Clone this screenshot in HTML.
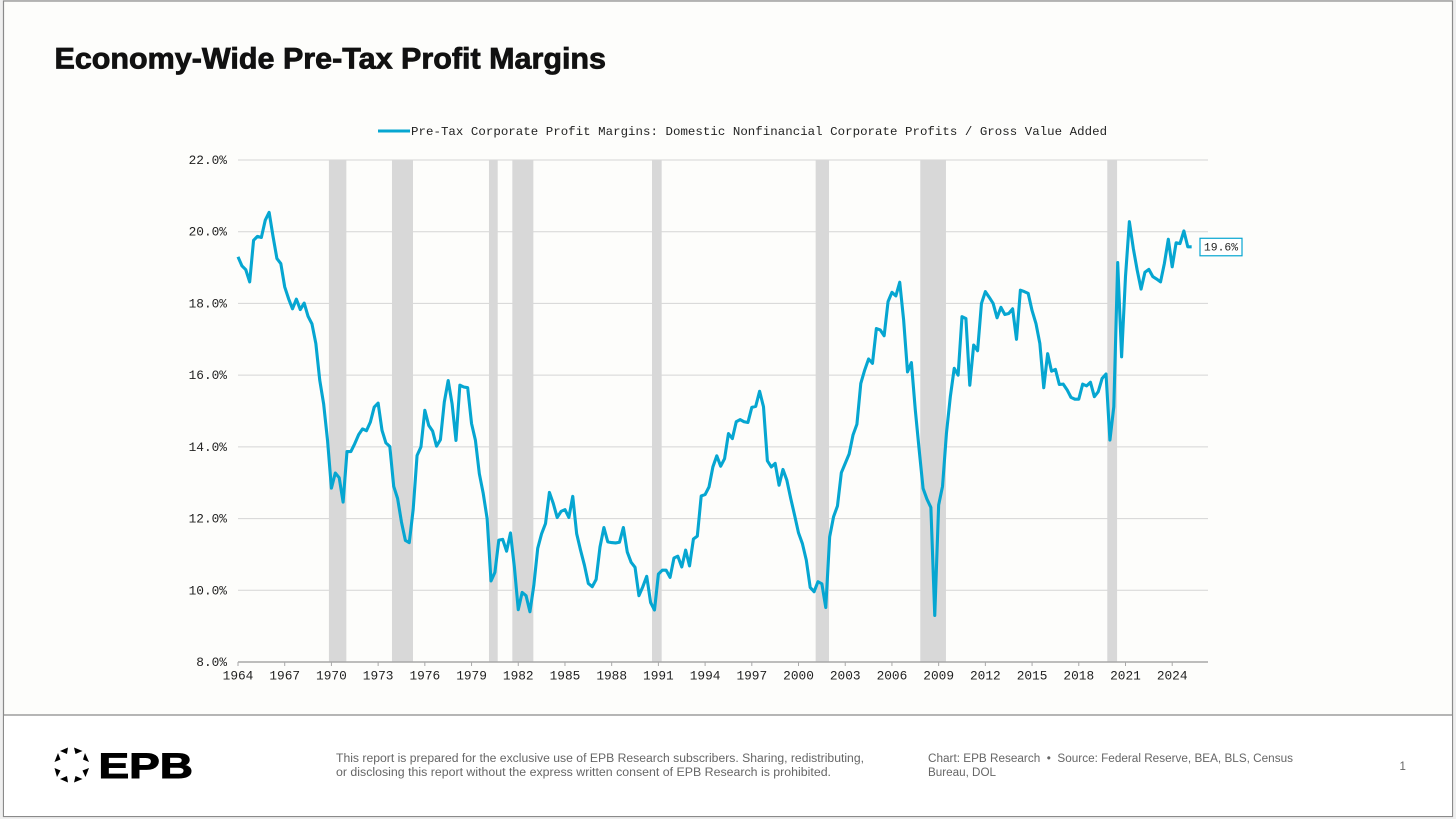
<!DOCTYPE html>
<html lang="en">
<head>
<meta charset="utf-8">
<title>Economy-Wide Pre-Tax Profit Margins</title>
<style>
  html, body { margin: 0; padding: 0; width: 1456px; height: 819px; overflow: hidden; background: #efefef; }
  svg { display: block; }
  .mono { font-family: "Liberation Mono", monospace; fill: #222222; }
  .sans { font-family: "Liberation Sans", sans-serif; fill: #666666; }
</style>
</head>
<body>
<svg id="slide" width="1456" height="819" viewBox="0 0 1456 819" xmlns="http://www.w3.org/2000/svg">
  <rect x="3.5" y="1" width="1449" height="815.5" fill="#fdfdfb" stroke="#8a8a8a" stroke-width="1.2"/>
  <rect x="4" y="715.5" width="1448" height="100.5" fill="#ffffff"/>
  <line x1="3.5" y1="715" x2="1452.5" y2="715" stroke="#8a8a8a" stroke-width="1.2"/>

  <text x="54.5" y="68.5" font-family="'Liberation Sans', sans-serif" font-weight="700" font-size="30" fill="#111111" stroke="#111111" stroke-width="0.8" textLength="551.5" lengthAdjust="spacingAndGlyphs">Economy-Wide Pre-Tax Profit Margins</text>

  <line x1="378" y1="131" x2="410" y2="131" stroke="#06a6d1" stroke-width="3"/>
  <text class="mono" x="411" y="135" font-size="12.4" textLength="696" lengthAdjust="spacing">Pre-Tax Corporate Profit Margins: Domestic Nonfinancial Corporate Profits / Gross Value Added</text>

  <g id="grid-layer"></g>
  <g id="band-layer"></g>
  <g id="axis-layer"></g>
  <g id="ylabel-layer"></g>
  <g id="series-layer"></g>

  <g>
    <g fill="#000000">
      <polygon points="60,751 68,747.5 67,754"/>
      <polygon points="74,747.5 82.5,751 75.5,754"/>
      <polygon points="85,753 89,762 83,759.5"/>
      <polygon points="89,768 85.5,777 82.5,770.5"/>
      <polygon points="82.5,779 74,782.5 75.5,776"/>
      <polygon points="68,782.5 60,779 67,776"/>
      <polygon points="57,777 54.5,768 60.5,770.5"/>
      <polygon points="54.5,762 58,753 60.5,759.5"/>
    </g>
    <text x="98.5" y="778" font-family="'Liberation Sans', sans-serif" font-weight="700" font-size="35" fill="#000000" stroke="#000000" stroke-width="1" textLength="94.5" lengthAdjust="spacingAndGlyphs">EPB</text>
  </g>

  <text class="sans" x="336" y="762" font-size="11.5" textLength="528" lengthAdjust="spacingAndGlyphs">This report is prepared for the exclusive use of EPB Research subscribers. Sharing, redistributing,</text>
  <text class="sans" x="336" y="776" font-size="11.5" textLength="495" lengthAdjust="spacingAndGlyphs">or disclosing this report without the express written consent of EPB Research is prohibited.</text>
  <text class="sans" x="928" y="762" font-size="11.5" textLength="365" lengthAdjust="spacingAndGlyphs">Chart: EPB Research&#160;&#160;•&#160;&#160;Source: Federal Reserve, BEA, BLS, Census</text>
  <text class="sans" x="928" y="776" font-size="11.5" textLength="68" lengthAdjust="spacingAndGlyphs">Bureau, DOL</text>
  <text class="sans" x="1399.5" y="770" font-size="11.5">1</text>
</svg>

<script>
// ---- Chart data (quarterly, first point is 1964 Q1) ----
const firstYear = 1964;
const periodsPerYear = 4;
const margins = [
  19.30,19.05,18.94,18.60,19.76,19.87,19.84,20.32,20.54,19.87,19.25,19.11,18.46,18.13,17.85,18.12,
  17.83,18.01,17.64,17.43,16.88,15.86,15.20,14.18,12.85,13.27,13.14,12.46,13.87,13.87,14.09,14.34,
  14.50,14.45,14.69,15.11,15.22,14.46,14.11,14.01,12.90,12.56,11.90,11.39,11.33,12.25,13.76,14.00,
  15.02,14.60,14.44,14.02,14.20,15.25,15.85,15.20,14.18,15.72,15.67,15.65,14.65,14.18,13.25,12.70,
  12.00,10.26,10.50,11.40,11.42,11.09,11.60,10.65,9.46,9.94,9.85,9.40,10.14,11.17,11.58,11.86,
  12.73,12.42,12.03,12.20,12.25,12.03,12.62,11.58,11.12,10.70,10.19,10.10,10.30,11.21,11.75,11.35,
  11.33,11.32,11.34,11.75,11.07,10.78,10.64,9.85,10.10,10.39,9.66,9.45,10.45,10.56,10.56,10.36,
  10.90,10.95,10.65,11.12,10.68,11.43,11.51,12.63,12.67,12.88,13.44,13.75,13.46,13.67,14.37,14.23,
  14.70,14.76,14.70,14.68,15.10,15.13,15.55,15.12,13.61,13.44,13.54,12.93,13.37,13.07,12.56,12.09,
  11.60,11.30,10.84,10.08,9.96,10.24,10.18,9.52,11.49,12.05,12.35,13.28,13.54,13.80,14.33,14.63,
  15.77,16.14,16.45,16.33,17.30,17.26,17.10,18.05,18.31,18.21,18.59,17.54,16.09,16.35,15.03,13.91,
  12.84,12.54,12.31,9.30,12.38,12.90,14.38,15.40,16.19,16.00,17.63,17.58,15.72,16.84,16.68,18.00,
  18.33,18.17,18.00,17.60,17.89,17.69,17.72,17.85,17.00,18.37,18.33,18.28,17.80,17.44,16.88,15.65,
  16.60,16.11,16.16,15.74,15.75,15.59,15.38,15.33,15.33,15.75,15.70,15.80,15.40,15.54,15.91,16.03,
  14.19,15.12,19.14,16.51,18.75,20.28,19.54,18.93,18.40,18.87,18.95,18.75,18.68,18.60,19.12,19.79,
  19.02,19.69,19.67,20.02,19.58,19.58
];
const yTicks = [8, 10, 12, 14, 16, 18, 20, 22];
const xTicks = [1964,1967,1970,1973,1976,1979,1982,1985,1988,1991,1994,1997,2000,2003,2006,2009,2012,2015,2018,2021,2024];
const recessionStarts = [1969.84, 1973.89, 1980.12, 1981.62, 1990.59, 2001.10, 2007.82, 2019.83];
const recessionEnds   = [1970.96, 1975.24, 1980.68, 1982.97, 1991.21, 2001.96, 2009.47, 2020.46];

// ---- Axis functions ----
const plotLeft = 238, plotRight = 1208, plotTop = 160, plotBottom = 662;
const pxPerYear = 15.57;
const yMin = 8, yMax = 22;
function xScale(year) { return plotLeft + (year - firstYear) * pxPerYear; }
function yScale(v) { return plotBottom - (v - yMin) / (yMax - yMin) * (plotBottom - plotTop); }
const NS = 'http://www.w3.org/2000/svg';
function make(tag, parent, geometry) {
  const el = document.createElementNS(NS, tag);
  for (const k in geometry) el.setAttribute(k, geometry[k]);
  parent.appendChild(el);
  return el;
}

// Gridlines and y labels
const gridLayer = document.getElementById('grid-layer');
const ylabelLayer = document.getElementById('ylabel-layer');
yTicks.forEach(function (t) {
  if (t !== yMin) {
    const g = make('line', gridLayer, {x1: plotLeft, x2: plotRight, y1: yScale(t), y2: yScale(t), stroke: '#d5d5d5', 'stroke-width': 1});
    
    
  }
  const lab = make('text', ylabelLayer, {x: 227, y: yScale(t) + 4, 'text-anchor': 'end', 'font-size': 12.8, class: 'mono'});
  
  
  lab.textContent = t.toFixed(1) + '%';
});

// Recession bands
const bandLayer = document.getElementById('band-layer');
recessionStarts.forEach(function (s, i) {
  const b = make('rect', bandLayer, {x: xScale(s), y: plotTop, width: xScale(recessionEnds[i]) - xScale(s), height: plotBottom - plotTop, fill: '#d8d8d8'});
  
  
});

// X axis
const axisLayer = document.getElementById('axis-layer');
const axisLine = make('line', axisLayer, {x1: plotLeft, x2: plotRight, y1: plotBottom, y2: plotBottom, stroke: '#a8a8a8', 'stroke-width': 1.4});


xTicks.forEach(function (yr) {
  const tick = make('line', axisLayer, {x1: xScale(yr), x2: xScale(yr), y1: plotBottom, y2: plotBottom + 4, stroke: '#a8a8a8', 'stroke-width': 1});
  
  
  const lab = make('text', axisLayer, {x: xScale(yr), y: 679.5, 'text-anchor': 'middle', 'font-size': 12.8, class: 'mono'});
  
  
  lab.textContent = String(yr);
});

// Series line
const seriesLayer = document.getElementById('series-layer');
const pts = margins.map(function (v, i) {
  return xScale(firstYear + i / periodsPerYear).toFixed(2) + ',' + yScale(v).toFixed(2);
});
const seriesLine = make('polyline', seriesLayer, {points: pts.join(' '), fill: 'none', stroke: '#06a6d1', 'stroke-width': 3.1, 'stroke-linejoin': 'round'});



// Last value callout
const lastValue = margins[margins.length - 1];
const lastY = yScale(lastValue);
const calloutBox = make('rect', seriesLayer, {x: 1200, y: lastY - 8.5, width: 42, height: 17.5, fill: '#ffffff', stroke: '#06a6d1', 'stroke-width': 1.2});


const calloutText = make('text', seriesLayer, {x: 1221, y: lastY + 3.7, 'text-anchor': 'middle', 'font-size': 11.4, class: 'mono'});


calloutText.textContent = lastValue.toFixed(1) + '%';
</script>
</body>
</html>
